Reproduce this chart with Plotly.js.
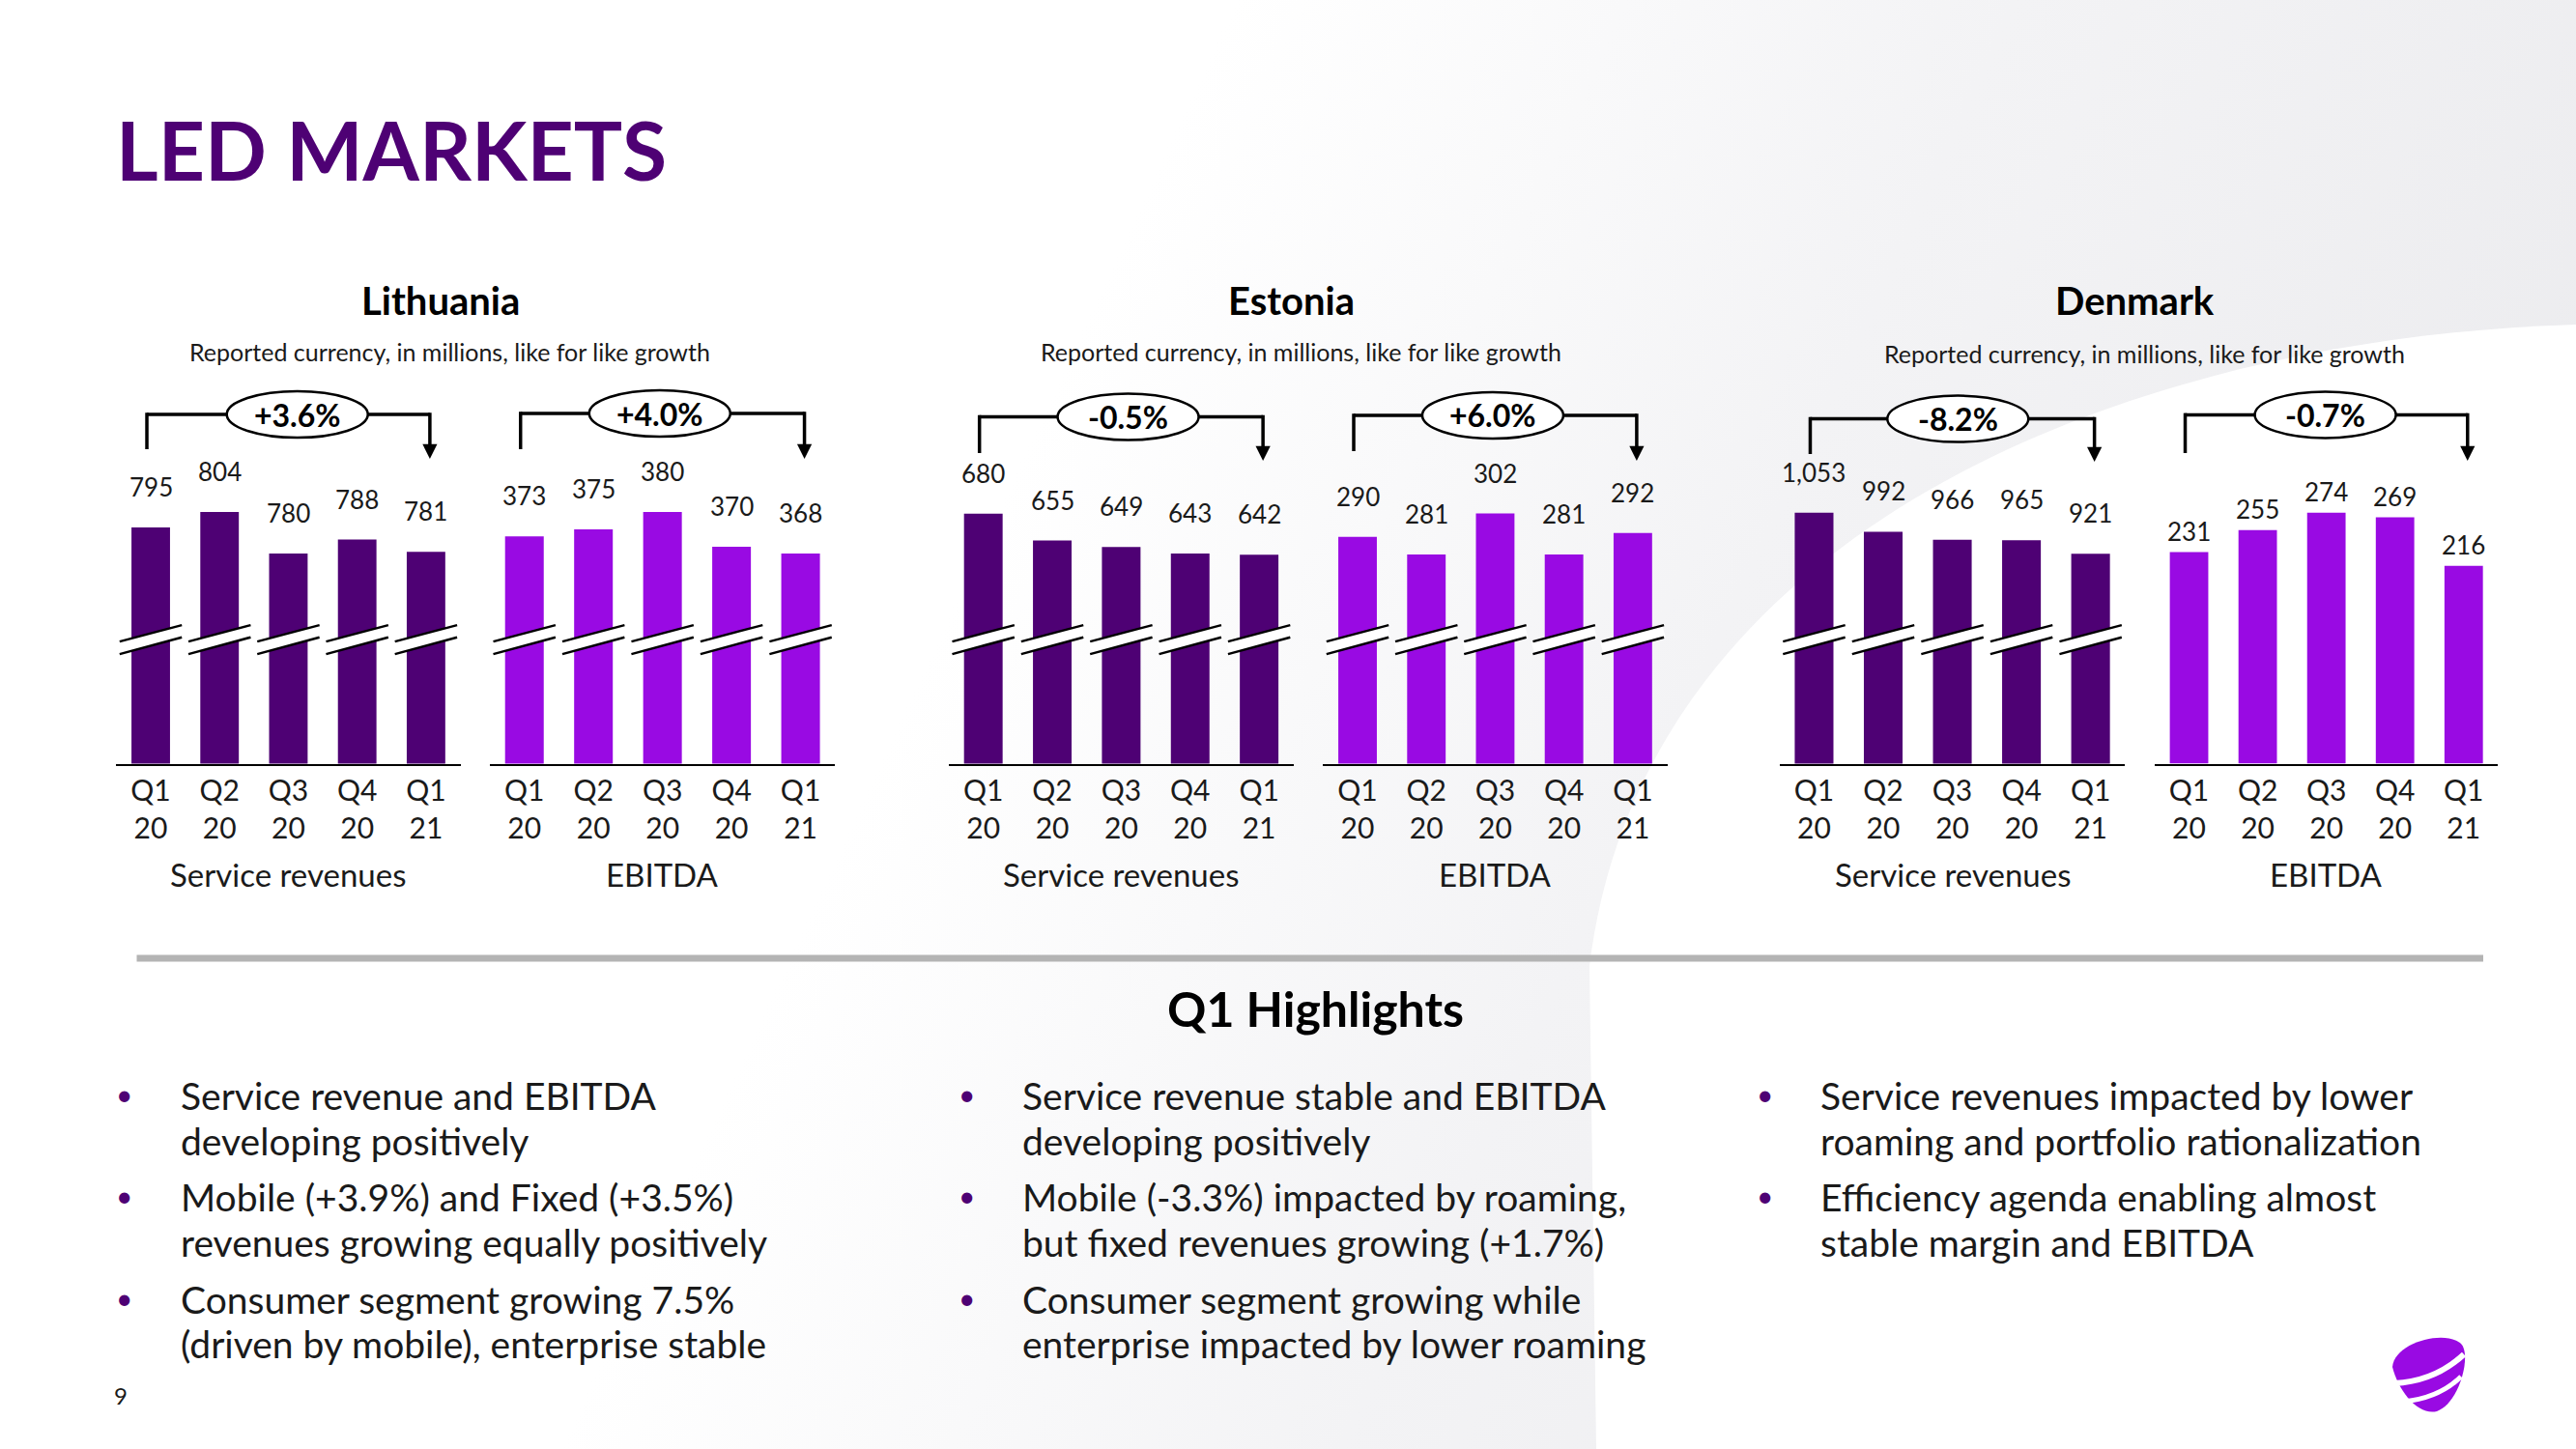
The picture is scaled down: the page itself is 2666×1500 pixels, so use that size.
<!DOCTYPE html>
<html><head><meta charset="utf-8">
<script src="https://cdn.plot.ly/plotly-3.0.1.min.js"></script>
<style>
html,body{margin:0;padding:0;}
body{width:2666px;height:1500px;overflow:hidden;background:linear-gradient(115deg,#ffffff 0%,#ffffff 38%,#f3f3f5 62%,#e8e8eb 100%);}
#chart{width:2666px;height:1500px;}
</style></head><body><div id="chart"></div>
<script>
// ---------- data ----------
const quarters = ['Q1<br>20', 'Q2<br>20', 'Q3<br>20', 'Q4<br>20', 'Q1<br>21'];
const ltServiceRevenue = [795, 804, 780, 788, 781];
const ltEbitda = [373, 375, 380, 370, 368];
const eeServiceRevenue = [680, 655, 649, 643, 642];
const eeEbitda = [290, 281, 302, 281, 292];
const dkServiceRevenue = [1053, 992, 966, 965, 921];
const dkEbitda = [231, 255, 274, 269, 216];
const growthLabels = ['+3.6%', '+4.0%', '-0.5%', '+6.0%', '-8.2%', '-0.7%'];
const countries = ['Lithuania', 'Estonia', 'Denmark'];
const subtitle = 'Reported currency, in millions, like for like growth';
const metricLabels = ['Service revenues', 'EBITDA'];
const pageTitle = 'LED MARKETS';
const highlightsTitle = 'Q1 Highlights';
const highlights = [
  [['Service revenue and EBITDA', 'developing positively'],
   ['Mobile (+3.9%) and Fixed (+3.5%)', 'revenues growing equally positively'],
   ['Consumer segment growing 7.5%', '(driven by mobile), enterprise stable']],
  [['Service revenue stable and EBITDA', 'developing positively'],
   ['Mobile (-3.3%) impacted by roaming,', 'but fixed revenues growing (+1.7%)'],
   ['Consumer segment growing while', 'enterprise impacted by lower roaming']],
  [['Service revenues impacted by lower', 'roaming and portfolio rationalization'],
   ['Efficiency agenda enabling almost', 'stable margin and EBITDA']]
];
const pageNumber = '9';

// ---------- styling / layout ----------
const FONT = 'Lato, "Open Sans", sans-serif';
const DARK = '#4E0174', BRIGHT = '#990AE3', INK = '#1a1a1a';
const W = 2666, H = 1500;
const fx = p => p / W, fy = p => 1 - p / H;

const series = [ltServiceRevenue, ltEbitda, eeServiceRevenue, eeEbitda, dkServiceRevenue, dkEbitda];
const panelCfg = [
  {dom: [120.4, 476.5], range: [658.6, 820.7], color: DARK, broken: true, brY: 429, brBottom: 465, tip: 475, ovalOff: 0.13, gap: 42},
  {dom: [507, 864.3], range: [307.3, 388.4], color: BRIGHT, broken: true, brY: 428, brBottom: 465, tip: 475, ovalOff: -0.04, gap: 42},
  {dom: [982, 1338.8], range: [448.5, 708.3], color: DARK, broken: true, brY: 431.5, brBottom: 469, tip: 477, ovalOff: 0.1, gap: 42},
  {dom: [1369.4, 1725.5], range: [174.1, 317.6], color: BRIGHT, broken: true, brY: 430, brBottom: 467, tip: 477, ovalOff: -0.035, gap: 42},
  {dom: [1841.7, 2199.4], range: [246.5, 1148.7], color: DARK, broken: true, brY: 433.6, brBottom: 470, tip: 478, ovalOff: 0.08, gap: 42},
  {dom: [2230, 2585.3], range: [0, 306.5], color: BRIGHT, broken: false, brY: 429.4, brBottom: 469, tip: 477, ovalOff: -0.015, gap: 22}
];
const BASE_Y = 790.5, TOP_Y = 500;

const traces = [];
const shapes = [];
const annotations = [];
const layout = {
  width: W, height: H, margin: {l: 0, r: 0, t: 0, b: 0},
  paper_bgcolor: 'rgba(0,0,0,0)', plot_bgcolor: 'rgba(0,0,0,0)',
  showlegend: false, bargap: 0.44, font: {family: FONT, color: INK},
  shapes: shapes, annotations: annotations
};

// background swoosh (white region lower right)
const P = (x, y) => fx(x) + ',' + fy(y);
shapes.push({type: 'path', xref: 'paper', yref: 'paper', layer: 'below', line: {width: 0}, fillcolor: '#ffffff',
  path: 'M ' + P(2666, 336) + ' C ' + P(2200, 350) + ' ' + P(1700, 550) + ' ' + P(1645, 1000) +
        ' L ' + P(1652, 1500) + ' L ' + P(2666, 1500) + ' Z'});

panelCfg.forEach((c, k) => {
  const n = k === 0 ? '' : String(k + 1);
  const xa = 'x' + n, ya = 'y' + n;
  const vals = series[k];
  traces.push({type: 'bar', x: quarters, y: vals, xaxis: xa, yaxis: ya,
    marker: {color: c.color, line: {width: 0}}, hoverinfo: 'skip'});
  layout['xaxis' + n] = {domain: [fx(c.dom[0]), fx(c.dom[1])], anchor: ya, type: 'category',
    range: [-0.5, 4.5], showline: true, linecolor: '#000', linewidth: 2, ticks: '',
    showgrid: false, zeroline: false, fixedrange: true,
    tickfont: {family: FONT, size: 30, color: INK}};
  layout['yaxis' + n] = {domain: [fy(BASE_Y), fy(TOP_Y)], anchor: xa, range: c.range,
    visible: false, fixedrange: true};

  // value labels
  vals.forEach((v, i) => {
    annotations.push({x: i, y: v, xref: xa, yref: ya, text: v.toLocaleString('en-US'),
      showarrow: false, xanchor: 'center', yanchor: 'middle', yshift: c.gap, font: {family: FONT, size: 26, color: INK}});
  });

  // axis-break marks
  if (c.broken) {
    const slot = (c.dom[1] - c.dom[0]) / 5;
    const hw = 32.2 / slot, yc = 662;
    for (let i = 0; i < vals.length; i++) {
      shapes.push({type: 'line', xref: xa, yref: 'paper', x0: i - hw, x1: i + hw,
        y0: fy(yc + 8.5), y1: fy(yc - 8.5), line: {color: '#ffffff', width: 12}});
      shapes.push({type: 'line', xref: xa, yref: 'paper', x0: i - hw, x1: i + hw,
        y0: fy(yc + 2.1), y1: fy(yc - 14.9), line: {color: '#000', width: 2.5}});
      shapes.push({type: 'line', xref: xa, yref: 'paper', x0: i - hw, x1: i + hw,
        y0: fy(yc + 15.1), y1: fy(yc - 2.3), line: {color: '#000', width: 2.5}});
    }
  }

  // growth bracket
  const slot = (c.dom[1] - c.dom[0]) / 5;
  const xl = -4 / slot, xr = 4 + 4 / slot;
  const bl = {color: '#000', width: 3.5};
  shapes.push({type: 'line', xref: xa, yref: 'paper', x0: xl, x1: xl, y0: fy(c.brBottom), y1: fy(c.brY - 1.75), line: bl});
  shapes.push({type: 'line', xref: xa, yref: 'paper', x0: xl, x1: xr, y0: fy(c.brY), y1: fy(c.brY), line: bl});
  shapes.push({type: 'line', xref: xa, yref: 'paper', x0: xr, x1: xr, y0: fy(c.brY - 1.75), y1: fy(c.tip - 10), line: bl});
  annotations.push({x: xr, y: fy(c.tip), xref: xa, yref: 'paper', text: '', showarrow: true,
    ax: 0, ay: -16, axref: 'pixel', ayref: 'pixel', arrowhead: 2, arrowsize: 0.95, arrowwidth: 3.2,
    arrowcolor: '#000', standoff: 0, startstandoff: 0});
  const oc = 2 + c.ovalOff, ohw = 73 / slot;
  shapes.push({type: 'circle', xref: xa, yref: 'paper', x0: oc - ohw, x1: oc + ohw,
    y0: fy(c.brY + 24), y1: fy(c.brY - 24), fillcolor: '#ffffff', line: {color: '#000', width: 2.5}});
  annotations.push({x: oc, y: fy(c.brY), xref: xa, yref: 'paper', text: '<b>' + growthLabels[k] + '</b>',
    showarrow: false, xanchor: 'center', yanchor: 'middle', font: {family: FONT, size: 32, color: '#000'}});

  // metric label under axis
  annotations.push({x: 0.5, y: fy(905), xref: xa + ' domain', yref: 'paper', text: metricLabels[k % 2],
    showarrow: false, xanchor: 'center', yanchor: 'middle', font: {family: FONT, size: 33, color: INK}});
});

// country titles & subtitles
const titleX = [455.5, 1336.7, 2209.4];
const subX = [465.3, 1346.7, 2219];
countries.forEach((c, i) => {
  annotations.push({x: fx(titleX[i]), y: fy(311), xref: 'paper', yref: 'paper', text: '<b>' + c + '</b>',
    showarrow: false, xanchor: 'center', yanchor: 'middle', font: {family: FONT, size: 40, color: '#000'}});
  annotations.push({x: fx(subX[i]), y: fy(i === 2 ? 366 : 364), xref: 'paper', yref: 'paper', text: subtitle,
    showarrow: false, xanchor: 'center', yanchor: 'middle', font: {family: FONT, size: 25, color: INK}});
});

// page title
annotations.push({x: fx(118), y: fy(154), xref: 'paper', yref: 'paper', text: '<b>' + pageTitle + '</b>',
  showarrow: false, xanchor: 'left', yanchor: 'middle', font: {family: FONT, size: 84, color: DARK, weight: 900}});

// separator
shapes.push({type: 'line', xref: 'paper', yref: 'paper', x0: fx(141.5), x1: fx(2570), y0: fy(992), y1: fy(992),
  line: {color: '#b4b4b4', width: 7}});

// highlights
annotations.push({x: fx(1361), y: fy(1044), xref: 'paper', yref: 'paper', text: '<b>' + highlightsTitle + '</b>',
  showarrow: false, xanchor: 'center', yanchor: 'middle', font: {family: FONT, size: 50, color: '#000'}});
const colBullet = [128.7, 1000, 1826];
const colText = [184.8, 1056, 1882];
const lineY = [[1134, 1180.7], [1239, 1286], [1344.5, 1391]];
highlights.forEach((col, ci) => {
  col.forEach((item, bi) => {
    annotations.push({x: fx(colBullet[ci]), y: fy(lineY[bi][0] - 2), xref: 'paper', yref: 'paper', text: '•',
      showarrow: false, xanchor: 'center', yanchor: 'middle', font: {family: FONT, size: 30, color: DARK}});
    item.forEach((ln, li) => {
      annotations.push({x: fx(colText[ci]), y: fy(lineY[bi][li]), xref: 'paper', yref: 'paper', text: ln,
        showarrow: false, xanchor: 'left', yanchor: 'middle', font: {family: FONT, size: 39, color: INK}});
    });
  });
});

// page number
annotations.push({x: fx(125), y: fy(1444), xref: 'paper', yref: 'paper', text: pageNumber,
  showarrow: false, xanchor: 'center', yanchor: 'middle', font: {family: FONT, size: 24, color: INK}});

// logo
shapes.push({type: 'path', xref: 'paper', yref: 'paper', line: {width: 0}, fillcolor: BRIGHT,
  path: 'M ' + P(2476, 1415) + ' C ' + P(2478, 1390) + ' ' + P(2530, 1376) + ' ' + P(2547, 1391) +
        ' C ' + P(2558, 1402) + ' ' + P(2546, 1452) + ' ' + P(2522, 1461) +
        ' C ' + P(2503, 1466) + ' ' + P(2482, 1440) + ' ' + P(2476, 1415) + ' Z'});
shapes.push({type: 'path', xref: 'paper', yref: 'paper', line: {color: '#ffffff', width: 6},
  path: 'M ' + P(2478, 1432) + ' Q ' + P(2520, 1430) + ' ' + P(2550, 1402)});
shapes.push({type: 'path', xref: 'paper', yref: 'paper', line: {color: '#ffffff', width: 5},
  path: 'M ' + P(2488, 1451) + ' Q ' + P(2525, 1447) + ' ' + P(2547, 1425)});

Plotly.newPlot('chart', traces, layout, {displayModeBar: false, staticPlot: true});
</script></body></html>
